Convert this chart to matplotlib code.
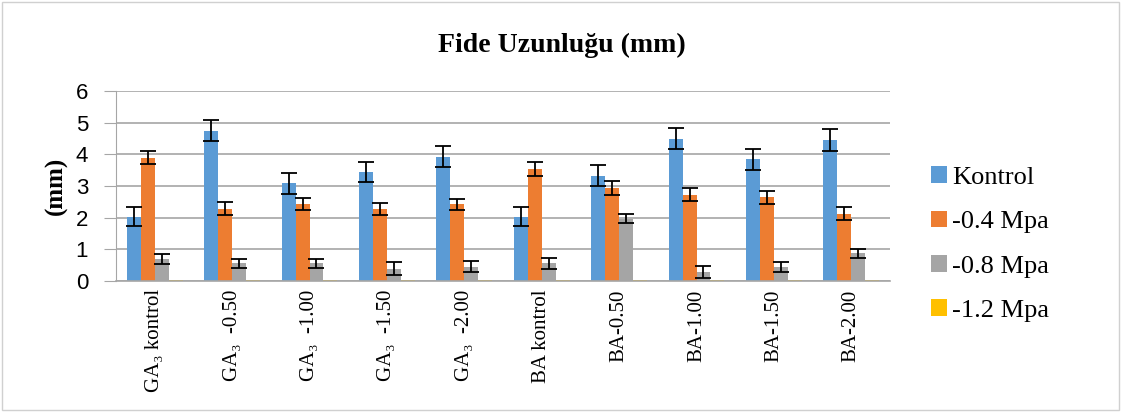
import numpy as np
import matplotlib.pyplot as plt
from matplotlib.patches import Rectangle

categories = ['GA₃ kontrol', 'GA₃  -0.50', 'GA₃  -1.00', 'GA₃  -1.50', 'GA₃  -2.00',
              'BA kontrol', 'BA-0.50', 'BA-1.00', 'BA-1.50', 'BA-2.00']
series_names = ['Kontrol', '-0.4 Mpa', '-0.8 Mpa', '-1.2 Mpa']

kontrol = [2.03, 4.75, 3.08, 3.44, 3.93, 2.03, 3.33, 4.50, 3.84, 4.45]
kontrol_err = [0.30, 0.33, 0.33, 0.31, 0.32, 0.30, 0.33, 0.32, 0.32, 0.34]
mpa04 = [3.89, 2.28, 2.42, 2.28, 2.42, 3.54, 2.93, 2.73, 2.64, 2.13]
mpa04_err = [0.20, 0.20, 0.19, 0.18, 0.18, 0.22, 0.22, 0.20, 0.21, 0.21]
mpa08 = [0.70, 0.56, 0.56, 0.39, 0.45, 0.56, 1.97, 0.29, 0.45, 0.87]
mpa08_err = [0.16, 0.15, 0.14, 0.20, 0.17, 0.17, 0.14, 0.18, 0.15, 0.14]
mpa12 = [0.02, 0.02, 0.02, 0.02, 0.02, 0.02, 0.02, 0.02, 0.02, 0.02]

colors = ['#5B9BD5', '#ED7D31', '#A5A5A5', '#FFC000']

fig = plt.figure(figsize=(11.23, 4.12), dpi=100)
ax = fig.add_axes([116 / 1123, 1 - 281 / 412, (890 - 116) / 1123, (281 - 91) / 412])

x = np.arange(len(categories))
w = 0.18
values = [kontrol, mpa04, mpa08, mpa12]
errors = [kontrol_err, mpa04_err, mpa08_err, None]
for i in range(4):
    pos = x + (i - 1.5) * w
    ax.bar(pos, values[i], w, color=colors[i], label=series_names[i], zorder=2)
    if errors[i] is not None:
        ax.errorbar(pos, values[i], yerr=errors[i], fmt='none', ecolor='black',
                    elinewidth=1.3, capsize=5.5, capthick=1.3, zorder=3)

ax.set_xlim(-0.5, len(categories) - 0.5)
ax.set_ylim(0, 6)
ax.set_yticks(range(7))
ax.yaxis.grid(True, color='#A6A6A6', linewidth=1.2, zorder=0)
ax.set_axisbelow(True)
for s in ['top', 'right']:
    ax.spines[s].set_visible(False)
ax.spines['left'].set_color('#A6A6A6')
ax.spines['bottom'].set_color('#A6A6A6')
ax.spines['bottom'].set_linewidth(1.2)
ax.tick_params(axis='y', length=9, color='#A6A6A6', labelsize=16, pad=11)
for t in ax.get_yticklabels():
    t.set_family('Liberation Sans')

ax.set_xticks(x)
ax.set_xticklabels(categories, rotation=90, fontsize=15, family='Liberation Serif')
ax.tick_params(axis='x', length=0, pad=6)

ax.set_ylabel('(mm)', fontsize=18, fontweight='bold', family='Liberation Serif', labelpad=6)
fig.text(0.50, 1 - 45 / 412, 'Fide Uzunluğu (mm)', ha='center', va='center', fontsize=20,
         fontweight='bold', family='Liberation Serif')

ax.legend(loc='center left', bbox_to_anchor=(1.022, 0.5 - 58 / 190), frameon=False,
          prop={'family': 'Liberation Serif', 'size': 19}, handlelength=0.6,
          handleheight=0.6, handletextpad=0.2, labelspacing=0.82)

fig.patches.append(Rectangle((0.002, 0.004), 0.994, 0.992, transform=fig.transFigure,
                             fill=False, edgecolor='#D0D0D0', linewidth=1))

fig.savefig('out.png', dpi=100)
